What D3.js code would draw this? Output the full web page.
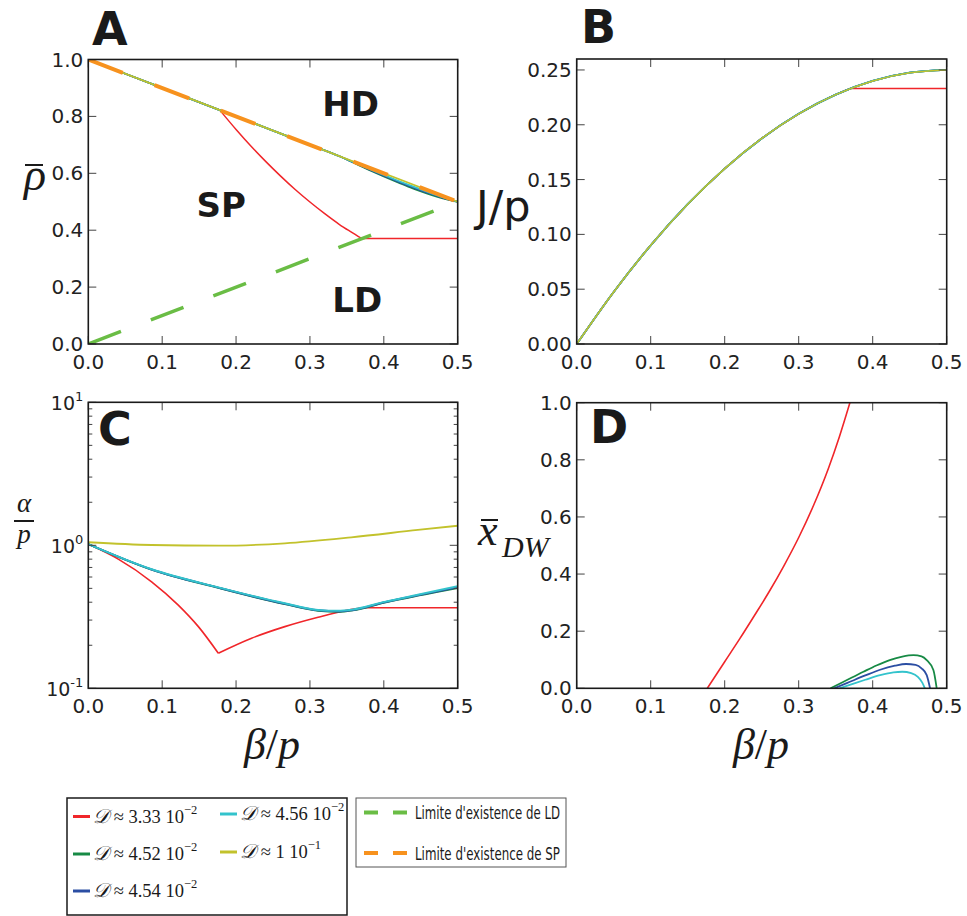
<!DOCTYPE html>
<html><head><meta charset="utf-8">
<script src="https://cdn.jsdelivr.net/npm/d3@7"></script>
<style>body{margin:0;background:#fff}svg{display:block}</style>
</head><body><svg id="c" width="967" height="916"></svg>
<script>
// ---------------- data ----------------
const betaTicks = [0, 0.1, 0.2, 0.3, 0.4, 0.5];
const rhoTicks = [0, 0.2, 0.4, 0.6, 0.8, 1.0];
const fluxTicks = [0, 0.05, 0.10, 0.15, 0.20, 0.25];
const alphaTicks = [0.1, 1, 10];
const alphaTickSup = ["-1", "0", "1"];
const xdwTicks = [0, 0.2, 0.4, 0.6, 0.8, 1.0];

const seriesKeys = ["red", "green", "blue", "cyan", "yellow"];
const legendMantissa = ["3.33", "4.52", "4.54", "4.56", "1"];
const legendExponent = ["\u22122", "\u22122", "\u22122", "\u22122", "\u22121"];
const limitLabels = ["Limite d'existence de LD", "Limite d'existence de SP"];
const phaseLabels = [["HD", 0.355, 0.80], ["SP", 0.18, 0.446], ["LD", 0.364, 0.112]];

// Panel A : mean density vs beta/p (segments)
const rhoRed = [
  [[0, 1], [0.178, 0.822]],
  [[0.178, 0.822], [0.20, 0.754], [0.22, 0.696], [0.24, 0.642], [0.26, 0.591], [0.28, 0.543], [0.30, 0.499], [0.32, 0.458], [0.34, 0.420], [0.355, 0.395], [0.370, 0.371]],
  [[0.370, 0.371], [0.5, 0.371]]
];
const rhoGreen = [[[0, 1], [0.1, 0.9], [0.2, 0.8], [0.3, 0.7], [0.34, 0.66], [0.36, 0.636], [0.38, 0.612], [0.40, 0.589], [0.42, 0.567], [0.44, 0.546], [0.46, 0.528], [0.48, 0.512], [0.5, 0.5]]];
const rhoBlue = [[[0, 1], [0.1, 0.9], [0.2, 0.8], [0.3, 0.7], [0.34, 0.66], [0.36, 0.637], [0.38, 0.614], [0.40, 0.592], [0.42, 0.570], [0.44, 0.550], [0.46, 0.531], [0.48, 0.514], [0.5, 0.5]]];
const rhoCyan = [[[0, 1], [0.1, 0.9], [0.2, 0.8], [0.3, 0.7], [0.34, 0.66], [0.36, 0.638], [0.38, 0.616], [0.40, 0.594], [0.42, 0.573], [0.44, 0.553], [0.46, 0.534], [0.48, 0.516], [0.5, 0.5]]];
const rhoYellow = [[[0, 1], [0.5, 0.5]]];
const limitLD = [[0, 0], [0.5, 0.5]];
const limitSP = [[0, 1], [0.5, 0.5]];

// Panel B : current J/p vs beta/p
const fluxRed = [
  [[0, 0], [0.05, 0.0475], [0.1, 0.09], [0.15, 0.1275], [0.2, 0.16], [0.25, 0.1875], [0.3, 0.21], [0.35, 0.2275], [0.37, 0.2331]],
  [[0.37, 0.2331], [0.5, 0.2331]]
];
const fluxOthers = [[[0, 0], [0.05, 0.0475], [0.1, 0.09], [0.15, 0.1275], [0.2, 0.16], [0.25, 0.1875], [0.3, 0.21], [0.35, 0.2275], [0.4, 0.24], [0.45, 0.2475], [0.5, 0.25]]];

// Panel C : alpha/p (log) vs beta/p
const alphaRed = [
  [[0, 1.02], [0.0406, 0.80], [0.0857, 0.556], [0.1218, 0.382], [0.149, 0.27], [0.176, 0.176]],
  [[0.176, 0.176], [0.221, 0.224], [0.266, 0.27], [0.311, 0.314], [0.352, 0.353], [0.37, 0.366]],
  [[0.37, 0.366], [0.5, 0.366]]
];
const alphaGreen = [[[0, 1.02], [0.0857, 0.676], [0.176, 0.504], [0.266, 0.388], [0.311, 0.349], [0.340, 0.343], [0.358, 0.351], [0.401, 0.398], [0.446, 0.445], [0.5, 0.503]]];
const alphaBlue = [[[0, 1.02], [0.0857, 0.678], [0.176, 0.506], [0.266, 0.390], [0.311, 0.351], [0.340, 0.345], [0.357, 0.352], [0.401, 0.400], [0.446, 0.447], [0.5, 0.508]]];
const alphaCyan = [[[0, 1.02], [0.0857, 0.680], [0.176, 0.508], [0.266, 0.393], [0.311, 0.353], [0.338, 0.348], [0.356, 0.354], [0.401, 0.402], [0.446, 0.451], [0.5, 0.518]]];
const alphaYellow = [[[0, 1.05], [0.0857, 1.005], [0.176, 0.994], [0.266, 1.033], [0.356, 1.137], [0.446, 1.28], [0.5, 1.37]]];

// Panel D : domain wall position vs beta/p
const xdwRed = [[[0.1765, 0], [0.20, 0.093], [0.22, 0.172], [0.24, 0.254], [0.26, 0.338], [0.28, 0.429], [0.30, 0.528], [0.32, 0.640], [0.34, 0.769], [0.355, 0.881], [0.37, 1.007]]];
const xdwGreen = [[[0.343, 0], [0.36, 0.022], [0.3875, 0.058], [0.405, 0.08], [0.423, 0.099], [0.44, 0.111], [0.455, 0.116], [0.466, 0.112], [0.473, 0.099], [0.482, 0.064], [0.4865, 0]]];
const xdwBlue = [[[0.348, 0], [0.365, 0.018], [0.39, 0.045], [0.41, 0.065], [0.43, 0.079], [0.445, 0.085], [0.458, 0.082], [0.466, 0.070], [0.473, 0.046], [0.4775, 0]]];
const xdwCyan = [[[0.355, 0], [0.37, 0.013], [0.39, 0.030], [0.41, 0.046], [0.428, 0.056], [0.44, 0.058], [0.452, 0.053], [0.461, 0.040], [0.467, 0.020], [0.4705, 0]]];

// ---------------- styles ----------------
const color = {red: "#f0262a", green: "#178a45", blue: "#2b4ea3", cyan: "#33c3cc", yellow: "#c2c22c", ld: "#6abd45", sp: "#f7921e"};
const svg = d3.select("#c");
const TICKFONT = "DejaVu Sans";
const MATH = "Liberation Serif";
const INK = "#1a1a1a";

function panel(box, yScaleType, yDomain) {
  const x = d3.scaleLinear().domain([0, 0.5]).range([box.x0, box.x1]);
  const y = (yScaleType === "log" ? d3.scaleLog() : d3.scaleLinear()).domain(yDomain).range([box.y1, box.y0]);
  const id = "clip" + box.name;
  svg.append("clipPath").attr("id", id).append("rect")
    .attr("x", box.x0).attr("y", box.y0).attr("width", box.x1 - box.x0).attr("height", box.y1 - box.y0);
  const g = svg.append("g");
  const plot = g.append("g").attr("clip-path", `url(#${id})`);
  return {x, y, g, plot, box};
}

function drawSeries(p, segs, col, w, dash) {
  const line = d3.line().x(d => p.x(d[0])).y(d => p.y(d[1])).curve(d3.curveMonotoneX);
  segs.forEach(s => {
    const path = p.plot.append("path").attr("d", line(s)).attr("fill", "none")
      .attr("stroke", col).attr("stroke-width", w).attr("stroke-linejoin", "round");
    if (dash) path.attr("stroke-dasharray", dash);
  });
}

function frame(p, yTicks, yFmt, minorTicks) {
  const b = p.box, g = p.g;
  const tl = 8;
  betaTicks.forEach(t => {
    const xx = p.x(t);
    g.append("line").attr("x1", xx).attr("x2", xx).attr("y1", b.y1).attr("y2", b.y1 - tl).attr("stroke", "#444").attr("stroke-width", 1);
    g.append("line").attr("x1", xx).attr("x2", xx).attr("y1", b.y0).attr("y2", b.y0 + tl).attr("stroke", "#444").attr("stroke-width", 1);
    g.append("text").attr("x", xx).attr("y", b.y1 + 25).attr("text-anchor", "middle")
      .attr("font-family", TICKFONT).attr("font-size", 20).attr("fill", "#222").text(t.toFixed(1));
  });
  yTicks.forEach((t, i) => {
    const yy = p.y(t);
    g.append("line").attr("x1", b.x0).attr("x2", b.x0 + tl).attr("y1", yy).attr("y2", yy).attr("stroke", "#444").attr("stroke-width", 1);
    g.append("line").attr("x1", b.x1).attr("x2", b.x1 - tl).attr("y1", yy).attr("y2", yy).attr("stroke", "#444").attr("stroke-width", 1);
    yFmt(g, t, i, b.x0 - 5, yy);
  });
  if (minorTicks) minorTicks.forEach(t => {
    const yy = p.y(t);
    g.append("line").attr("x1", b.x0).attr("x2", b.x0 + 4).attr("y1", yy).attr("y2", yy).attr("stroke", "#444").attr("stroke-width", 1);
    g.append("line").attr("x1", b.x1).attr("x2", b.x1 - 4).attr("y1", yy).attr("y2", yy).attr("stroke", "#444").attr("stroke-width", 1);
  });
  g.append("rect").attr("x", b.x0).attr("y", b.y0).attr("width", b.x1 - b.x0).attr("height", b.y1 - b.y0)
    .attr("fill", "none").attr("stroke", INK).attr("stroke-width", 1.6);
}

function fmtDec(n) {
  return (g, t, i, xx, yy) => g.append("text").attr("x", xx).attr("y", yy + 7).attr("text-anchor", "end")
    .attr("font-family", TICKFONT).attr("font-size", 20).attr("fill", "#222").text(t.toFixed(n));
}
function fmtPow(g, t, i, xx, yy) {
  const tx = g.append("text").attr("x", xx).attr("y", yy + 8).attr("text-anchor", "end")
    .attr("font-family", TICKFONT).attr("font-size", 19).attr("fill", "#222");
  tx.append("tspan").text("10");
  tx.append("tspan").attr("font-size", 13).attr("dy", -9).text(alphaTickSup[i]);
}

function panelLetter(txt, x, y) {
  svg.append("text").attr("x", x).attr("y", y).attr("font-family", "DejaVu Sans").attr("font-weight", "bold")
    .attr("font-size", 46).attr("fill", INK).text(txt);
}

function betaLabel(cx) {
  const t = svg.append("text").attr("x", cx).attr("y", 759).attr("text-anchor", "middle")
    .attr("font-family", MATH).attr("font-style", "italic").attr("font-size", 44).attr("fill", INK);
  t.append("tspan").text("\u03b2");
  t.append("tspan").attr("font-style", "normal").text("/");
  t.append("tspan").text("p");
}

// ---------------- Panel A ----------------
const pA = panel({name: "A", x0: 88.3, x1: 457.7, y0: 59.5, y1: 344}, "lin", [0, 1]);
drawSeries(pA, rhoRed, color.red, 1.5);
drawSeries(pA, rhoGreen, color.green, 1.8);
drawSeries(pA, rhoBlue, color.blue, 1.8);
drawSeries(pA, rhoCyan, color.cyan, 1.8);
drawSeries(pA, rhoYellow, color.yellow, 1.8);
drawSeries(pA, [limitLD], color.ld, 3.5, "35,32");
drawSeries(pA, [limitSP], color.sp, 4, "37,34");
frame(pA, rhoTicks, fmtDec(1));
phaseLabels.forEach(d => {
  pA.g.append("text").attr("x", pA.x(d[1])).attr("y", pA.y(d[2])).attr("text-anchor", "middle")
    .attr("font-family", "DejaVu Sans").attr("font-weight", "bold").attr("font-size", 34).attr("fill", INK).text(d[0]);
});
panelLetter("A", 92, 45);
svg.append("text").attr("x", 24).attr("y", 190).attr("font-family", MATH).attr("font-style", "italic")
  .attr("font-size", 46).attr("fill", INK).text("\u03c1");
svg.append("line").attr("x1", 25).attr("x2", 43).attr("y1", 165).attr("y2", 165).attr("stroke", INK).attr("stroke-width", 2);

// ---------------- Panel B ----------------
const pB = panel({name: "B", x0: 576.7, x1: 946.7, y0: 59, y1: 344}, "lin", [0, 0.26]);
drawSeries(pB, fluxRed, color.red, 1.5);
drawSeries(pB, fluxOthers, color.green, 1.8);
drawSeries(pB, fluxOthers, color.blue, 1.8);
drawSeries(pB, fluxOthers, color.cyan, 1.8);
drawSeries(pB, fluxOthers, color.yellow, 1.5);
frame(pB, fluxTicks, fmtDec(2));
panelLetter("B", 581, 43);
svg.append("text").attr("x", 476).attr("y", 221).attr("font-family", "DejaVu Sans").attr("font-size", 43)
  .attr("fill", INK).text("J/p");

// ---------------- Panel C ----------------
const pC = panel({name: "C", x0: 88.3, x1: 457.7, y0: 402.3, y1: 688.3}, "log", [0.1, 10]);
drawSeries(pC, alphaRed, color.red, 1.6);
drawSeries(pC, alphaGreen, color.green, 2);
drawSeries(pC, alphaBlue, color.blue, 2);
drawSeries(pC, alphaCyan, color.cyan, 2);
drawSeries(pC, alphaYellow, color.yellow, 1.8);
const minorC = [];
[0.1, 1].forEach(dec => d3.range(2, 10).forEach(k => minorC.push(dec * k)));
frame(pC, alphaTicks, fmtPow, minorC);
panelLetter("C", 98, 445);
svg.append("text").attr("x", 24).attr("y", 512).attr("text-anchor", "middle").attr("font-family", MATH)
  .attr("font-style", "italic").attr("font-size", 27).attr("fill", INK).text("\u03b1");
svg.append("line").attr("x1", 14).attr("x2", 34).attr("y1", 521).attr("y2", 521).attr("stroke", INK).attr("stroke-width", 2);
svg.append("text").attr("x", 24).attr("y", 543).attr("text-anchor", "middle").attr("font-family", MATH)
  .attr("font-style", "italic").attr("font-size", 27).attr("fill", INK).text("p");
betaLabel(272);

// ---------------- Panel D ----------------
const pD = panel({name: "D", x0: 576.7, x1: 946.7, y0: 402.7, y1: 688.3}, "lin", [0, 1]);
drawSeries(pD, xdwRed, color.red, 1.6);
drawSeries(pD, xdwGreen, color.green, 1.8);
drawSeries(pD, xdwBlue, color.blue, 1.8);
drawSeries(pD, xdwCyan, color.cyan, 1.8);
frame(pD, xdwTicks, fmtDec(1));
panelLetter("D", 590, 443);
svg.append("text").attr("x", 478).attr("y", 545).attr("font-family", MATH).attr("font-style", "italic")
  .attr("font-size", 44).attr("fill", INK).text("x");
svg.append("line").attr("x1", 481).attr("x2", 498).attr("y1", 520).attr("y2", 520).attr("stroke", INK).attr("stroke-width", 2);
svg.append("text").attr("x", 502).attr("y", 557).attr("font-family", MATH).attr("font-style", "italic")
  .attr("font-size", 30).attr("fill", INK).text("DW");
betaLabel(761);

// ---------------- Legends ----------------
svg.append("rect").attr("x", 67).attr("y", 798).attr("width", 280).attr("height", 117)
  .attr("fill", "#fff").attr("stroke", INK).attr("stroke-width", 1.5);
const legPos = [[73, 816.5], [73, 854], [73, 891], [220, 814], [220, 852]];
seriesKeys.forEach((k, i) => {
  const [lx, ly] = legPos[i];
  svg.append("line").attr("x1", lx).attr("x2", lx + 17).attr("y1", ly).attr("y2", ly)
    .attr("stroke", color[k]).attr("stroke-width", 3);
  const t = svg.append("text").attr("x", lx + 20).attr("y", ly + 6).attr("font-family", MATH)
    .attr("font-size", 18.5).attr("fill", INK);
  t.append("tspan").attr("font-style", "italic").attr("font-size", 20).text("\ud835\udc9f");
  t.append("tspan").text(" \u2248 " + legendMantissa[i] + " 10");
  t.append("tspan").attr("font-size", 12.5).attr("dy", -9).text(legendExponent[i]);
});

svg.append("rect").attr("x", 356).attr("y", 798).attr("width", 210).attr("height", 69)
  .attr("fill", "#fff").attr("stroke", "#555").attr("stroke-width", 1);
[["ld", 812.5], ["sp", 853]].forEach((d, i) => {
  svg.append("line").attr("x1", 364).attr("x2", 407).attr("y1", d[1]).attr("y2", d[1])
    .attr("stroke", color[d[0]]).attr("stroke-width", 4).attr("stroke-dasharray", "14,15");
  svg.append("text").attr("x", 415).attr("y", d[1] + 6.5).attr("font-family", "DejaVu Sans").attr("font-size", 18)
    .attr("textLength", 145).attr("lengthAdjust", "spacingAndGlyphs").attr("fill", INK).text(limitLabels[i]);
});
</script>
</body></html>
